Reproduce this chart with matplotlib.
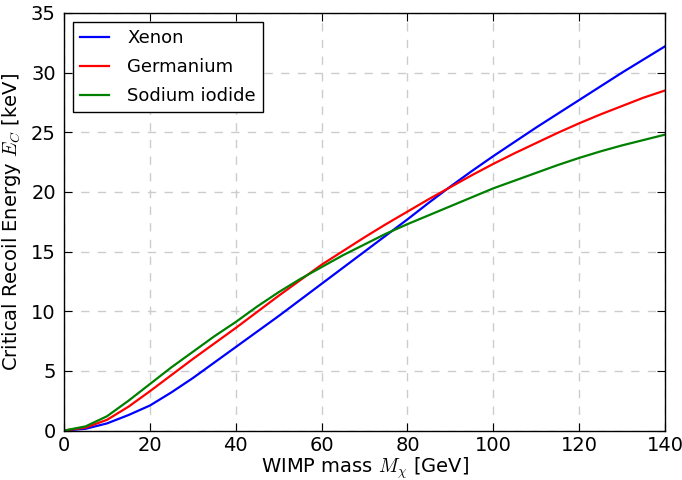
import matplotlib
matplotlib.use("Agg")
import matplotlib.pyplot as plt

# WIMP mass [GeV]
mass = [0, 5, 10, 15, 20, 25, 30, 35, 40, 45, 50, 55, 60, 65, 70, 75, 80,
        85, 90, 95, 100, 105, 110, 115, 120, 125, 130, 135, 140]

# critical recoil energy [keV]
xenon = [0, 0.15, 0.6, 1.3, 2.1, 3.2, 4.4, 5.7, 7.0, 8.3, 9.6, 10.95, 12.3,
         13.65, 15.0, 16.35, 17.7, 19.1, 20.45, 21.75, 23.0, 24.2, 25.4,
         26.55, 27.7, 28.85, 30.0, 31.1, 32.2]
germanium = [0, 0.25, 0.9, 2.0, 3.3, 4.65, 6.0, 7.3, 8.6, 9.95, 11.3, 12.6,
             13.9, 15.05, 16.2, 17.3, 18.35, 19.4, 20.4, 21.4, 22.35, 23.25,
             24.1, 24.95, 25.75, 26.5, 27.2, 27.9, 28.5]
sodium_iodide = [0, 0.35, 1.2, 2.5, 3.9, 5.3, 6.6, 7.9, 9.1, 10.4, 11.6, 12.7,
                 13.7, 14.7, 15.6, 16.5, 17.3, 18.05, 18.8, 19.55, 20.3,
                 20.95, 21.6, 22.25, 22.85, 23.4, 23.9, 24.35, 24.8]

plt.rcParams["font.size"] = 14
plt.rcParams["mathtext.fontset"] = "cm"

fig = plt.figure(figsize=(6.82, 4.80), dpi=100)
ax = fig.add_axes([0.094, 0.103, 0.881, 0.870])

ax.plot(mass, xenon, color="blue", lw=1.6, label="Xenon")
ax.plot(mass, germanium, color="red", lw=1.6, label="Germanium")
ax.plot(mass, sodium_iodide, color="green", lw=1.6, label="Sodium iodide")

ax.set_xlim(0, 140)
ax.set_ylim(0, 35)
ax.set_xticks(range(0, 141, 20))
ax.set_yticks(range(0, 36, 5))
ax.tick_params(direction="in", top=True, right=True, length=6)
ax.tick_params(axis="x", pad=4)
ax.tick_params(axis="y", pad=6)
ax.grid(True, color="#cccccc", linestyle=(0, (6, 6)), lw=1)

for s in ax.spines.values():
    s.set_linewidth(1.0)

ax.set_xlabel(r"WIMP mass $M_\chi$ [GeV]", labelpad=0)
ax.set_ylabel(r"Critical Recoil Energy $E_C$ [keV]", labelpad=6)

leg = ax.legend(loc="upper left", fancybox=False, edgecolor="black",
                framealpha=1, handlelength=1.6, handletextpad=1.0,
                labelspacing=0.6, borderaxespad=0.5, fontsize=13)
leg.get_frame().set_linewidth(1.0)

fig.savefig("out.png", dpi=100)
